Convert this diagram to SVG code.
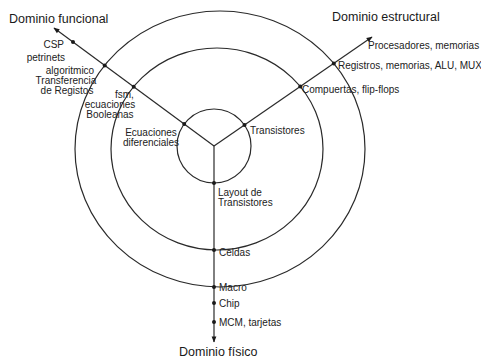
<svg xmlns="http://www.w3.org/2000/svg" width="481" height="359" viewBox="0 0 481 359">
<defs>
<style>
.ring{fill:none;stroke:#2a2a2a;stroke-width:1.2}
.axis{fill:none;stroke:#2a2a2a;stroke-width:1.2}
.dot{fill:#1a1a1a}
.t{font-family:"Liberation Sans",Arial,sans-serif;font-size:10px;fill:#222}
.title{font-family:"Liberation Sans",Arial,sans-serif;font-size:12.5px;fill:#1a1a1a}
</style>
<marker id="arr" viewBox="0 0 10 10" refX="9" refY="5" markerWidth="8" markerHeight="6" markerUnits="userSpaceOnUse" orient="auto">
<path d="M0,1 L10,5 L0,9 Z" fill="#1a1a1a"/>
</marker>
</defs>
<rect width="481" height="359" fill="#ffffff"/>
<g id="rings">
<ellipse class="ring" cx="220" cy="149" rx="145" ry="138"/>
<ellipse class="ring" cx="217" cy="149" rx="106" ry="101"/>
<circle class="ring" cx="214" cy="146" r="37"/>
</g>
<g id="connectors">
<line class="axis" x1="214" y1="146" x2="54" y2="28" marker-end="url(#arr)"/>
<line class="axis" x1="214" y1="146" x2="372" y2="37" marker-end="url(#arr)"/>
<line class="axis" x1="214" y1="146" x2="214" y2="342" marker-end="url(#arr)"/>
</g>
<g id="functional">
<text class="title" x="9" y="22.5">Dominio funcional</text>
<circle class="dot" cx="73" cy="42" r="2"/>
<text class="t" x="64" y="47.5" text-anchor="end">CSP</text>
<text class="t" x="65" y="60.5" text-anchor="end">petrinets</text>
<circle class="dot" cx="104.7" cy="65.4" r="2"/>
<text class="t" x="70" y="74" text-anchor="middle">algoritmico</text>
<text class="t" x="66" y="84" text-anchor="middle">Transferencia</text>
<text class="t" x="67" y="94" text-anchor="middle">de Registos</text>
<circle class="dot" cx="133.7" cy="86.8" r="2"/>
<text class="t" x="115" y="97.5">fsm,</text>
<text class="t" x="110" y="108" text-anchor="middle">ecuaciones</text>
<text class="t" x="110" y="118" text-anchor="middle">Booleanas</text>
<circle class="dot" cx="184.2" cy="124" r="2"/>
<text class="t" x="151" y="135.5" text-anchor="middle">Ecuaciones</text>
<text class="t" x="151" y="145.5" text-anchor="middle">diferenciales</text>
</g>
<g id="structural">
<text class="title" x="332" y="21">Dominio estructural</text>
<text class="t" x="368" y="48.5">Procesadores, memorias</text>
<circle class="dot" cx="333.8" cy="63.4" r="2"/>
<text class="t" x="338" y="68.5">Registros, memorias, ALU, MUX</text>
<circle class="dot" cx="300.3" cy="86.5" r="2"/>
<text class="t" x="302" y="92.5">Compuertas, flip-flops</text>
<circle class="dot" cx="244.5" cy="125" r="2"/>
<text class="t" x="250" y="133.5">Transistores</text>
</g>
<g id="physical">
<circle class="dot" cx="214" cy="183" r="2"/>
<text class="t" x="218" y="195.5">Layout de</text>
<text class="t" x="218" y="205.5">Transistores</text>
<circle class="dot" cx="214" cy="250" r="2"/>
<text class="t" x="219" y="255.5">Celdas</text>
<circle class="dot" cx="214" cy="287" r="2"/>
<text class="t" x="219" y="290.5">Macro</text>
<circle class="dot" cx="214" cy="303" r="2"/>
<text class="t" x="219" y="306.5">Chip</text>
<circle class="dot" cx="214" cy="322" r="2"/>
<text class="t" x="219" y="325.5">MCM, tarjetas</text>
<text class="title" x="179" y="356">Dominio físico</text>
</g>
</svg>
